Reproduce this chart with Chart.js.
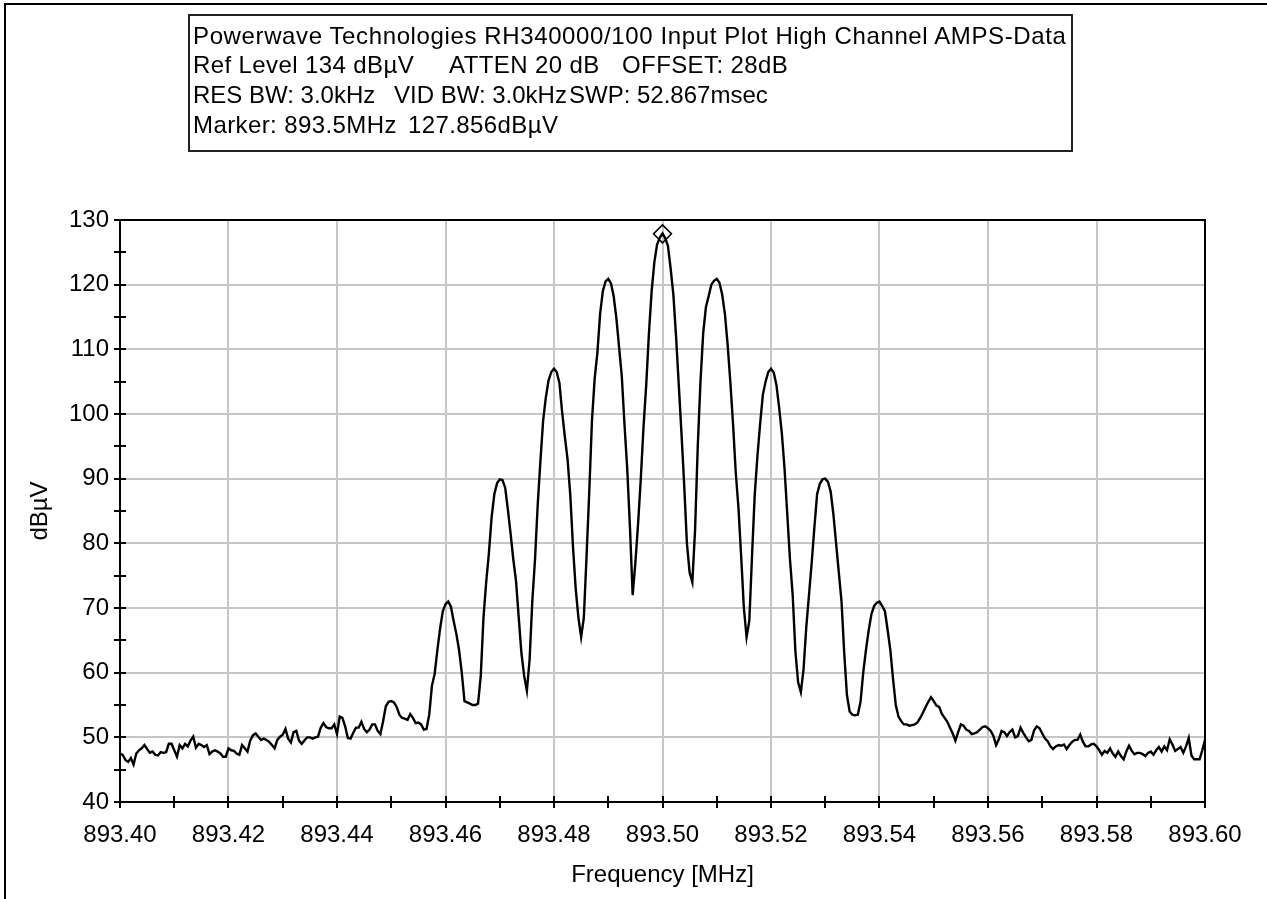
<!DOCTYPE html>
<html>
<head>
<meta charset="utf-8">
<title>RH340000/100 Input Plot High Channel AMPS-Data</title>
<script src="https://cdn.jsdelivr.net/npm/chart.js@4.4.1/dist/chart.umd.min.js"></script>
<style>
    body { margin: 0; background: #fff; }
    #page { position: relative; width: 1267px; height: 899px; overflow: hidden; background: #fff; }
    #chart { position: absolute; left: 0; top: 0; }
    .frame-top { position: absolute; left: 4px; top: 3px; width: 1263px; height: 2px; background: #000; }
    .frame-left { position: absolute; left: 4px; top: 3px; width: 2px; height: 896px; background: #000; }
    #info {
        position: absolute; left: 188px; top: 14px; width: 881px; height: 134px;
        border: 2px solid #222; box-sizing: content-box;
    }
    .info-line {
        position: absolute; white-space: pre; color: #000;
        font: 24px "Liberation Sans", Arial, sans-serif; line-height: 30px;
    }
</style>
</head>
<body>
<div id="page">
    <canvas id="chart" width="1267" height="899"></canvas>
    <div class="frame-top"></div>
    <div class="frame-left"></div>
    <div id="info"></div>
</div>
<script>
// sweep settings of the analyzer trace (401 points)
const FREQ_START = 893.40;
const FREQ_STEP = 0.0005;

// trace levels in dBµV
const levelsLowSide = [
    47.5, 47.3, 46.5, 46.2, 46.8, 45.8, 47.5, 48.0, 48.3, 48.8,
    48.2, 47.6, 47.8, 47.3, 47.2, 47.7, 47.6, 47.7, 49.0, 49.0,
    48.0, 47.0, 48.8, 48.3, 49.0, 48.6, 49.5, 50.1, 48.4, 49.0,
    48.8, 48.5, 48.8, 47.4, 47.8, 48.0, 47.8, 47.5, 47.0, 47.0,
    48.3, 48.0, 47.9, 47.5, 47.3, 48.8, 48.3, 47.8, 49.5, 50.3,
    50.6, 50.1, 49.6, 49.8, 49.6, 49.3, 48.8, 48.3, 49.6, 50.1,
    50.4, 51.3, 49.8, 49.2, 50.8, 51.0, 49.5, 49.0, 49.5, 50.0,
    50.0, 49.8, 50.0, 50.1, 51.5, 52.2, 51.6, 51.4, 51.4, 52.0,
    50.5, 53.2, 53.0, 51.7, 49.9, 49.8, 50.7, 51.5, 51.5, 52.4,
    51.3, 50.8, 51.2, 52.0, 52.0, 51.0, 50.5, 52.5, 54.8, 55.5,
    55.6, 55.4, 54.7, 53.5, 53.0, 52.9, 52.7, 53.6, 53.0, 52.2
];
const levelsCarrier = [
    52.3, 52.0, 51.2, 51.3, 53.5, 58.0, 59.8, 63.5, 66.8, 69.5,
    70.6, 71.0, 70.2, 68.0, 66.0, 63.5, 60.0, 55.6, 55.4, 55.2,
    55.0, 55.0, 55.2, 59.5, 68.5, 74.0, 78.5, 84.0, 87.6, 89.3,
    89.9, 89.8, 88.6, 85.2, 81.5, 77.5, 74.2, 68.5, 63.0, 59.5,
    57.2, 62.0, 71.0, 77.5, 86.0, 92.8, 99.0, 102.6, 105.2, 106.5,
    107.0, 106.5, 104.8, 100.3, 96.5, 93.0, 87.5, 79.5, 73.0, 68.5,
    65.5, 68.5, 78.0, 88.0, 99.0, 105.5, 109.5, 115.5, 119.0, 120.5,
    120.9, 120.2, 118.2, 114.8, 110.3, 105.8, 98.3, 91.5, 82.5, 72.0,
    77.0, 83.0, 90.0, 98.0, 104.5, 112.5, 119.0, 123.5, 126.2, 127.3,
    127.9, 127.2, 126.0, 122.5, 118.5, 112.0, 104.5, 97.0, 89.0, 80.0,
    75.5, 74.0, 82.0, 95.0, 105.0, 112.5, 116.5, 118.2, 120.0, 120.6,
    120.9, 120.3, 118.5, 115.5, 110.8, 105.0, 98.5, 91.0, 85.5, 78.0,
    70.0, 65.5, 68.0, 78.0, 87.5, 93.5, 98.5, 103.0, 105.0, 106.5,
    107.0, 106.4, 104.5, 101.0, 97.0, 91.5, 84.5, 77.5, 72.0, 63.2,
    58.5, 57.0, 60.5, 67.0, 72.0, 77.0, 82.5, 87.6, 89.2, 89.9,
    90.0, 89.5, 88.0, 84.5, 80.0, 75.5, 71.0, 63.0, 56.5, 54.0,
    53.5, 53.4, 53.5, 55.5, 60.0, 63.5, 66.5, 69.0, 70.3, 70.8,
    71.0, 70.3, 69.5, 66.6, 63.5, 59.0, 55.0, 53.2, 52.5, 52.0
];
const levelsHighSide = [
    52.0, 51.8, 51.9, 52.0, 52.3, 53.0, 53.8, 54.7, 55.5, 56.2,
    55.6, 54.9, 54.7, 53.6, 53.0, 52.4, 51.5, 50.6, 49.5, 50.8,
    52.0, 51.8, 51.2, 51.0, 50.5, 50.6, 50.8, 51.2, 51.6, 51.7,
    51.4, 51.0, 50.2, 48.8, 49.7, 51.0, 50.8, 50.2, 50.8, 51.2,
    50.0, 50.2, 51.5, 50.7, 50.0, 49.4, 49.6, 51.1, 51.7, 51.4,
    50.6, 49.8, 49.4, 48.6, 48.2, 48.6, 48.8, 48.7, 48.9, 48.2,
    48.8, 49.3, 49.6, 49.6, 50.4, 49.3, 48.6, 48.6, 48.9, 49.0,
    48.6, 48.0, 47.3, 47.9, 47.6, 48.3, 47.5, 47.0, 47.8, 47.1,
    46.6, 47.8, 48.7, 47.9, 47.4, 47.6, 47.6, 47.4, 47.1, 47.6,
    47.8, 47.3, 48.0, 48.5, 47.8, 48.6, 48.0, 49.7, 48.9, 47.9,
    48.2, 48.5, 47.6, 48.6, 49.9, 47.2, 46.6, 46.6, 46.6, 48.0,
    49.6
];

// marker readout
const markerFreq = 893.50;
const markerLevel = 127.856;

// axis ticks (major ones carry a label)
const xTickValues = [893.40, 893.41, 893.42, 893.43, 893.44, 893.45, 893.46, 893.47, 893.48, 893.49, 893.50,
                     893.51, 893.52, 893.53, 893.54, 893.55, 893.56, 893.57, 893.58, 893.59, 893.60];
const xTickLabels = ['893.40', '', '893.42', '', '893.44', '', '893.46', '', '893.48', '', '893.50',
                     '', '893.52', '', '893.54', '', '893.56', '', '893.58', '', '893.60'];
const yTickValues = [40, 45, 50, 55, 60, 65, 70, 75, 80, 85, 90, 95, 100, 105, 110, 115, 120, 125, 130];
const yTickLabels = ['40', '', '50', '', '60', '', '70', '', '80', '', '90', '', '100', '', '110', '', '120', '', '130'];

// header box text: [x, text] pieces per row
const infoLines = [
    [[193, 'Powerwave Technologies RH340000/100 Input Plot High Channel AMPS-Data']],
    [[193, 'Ref Level 134 dBµV'], [449, 'ATTEN 20 dB'], [622, 'OFFSET: 28dB']],
    [[193, 'RES BW: 3.0kHz'], [394, 'VID BW: 3.0kHz'], [569, 'SWP: 52.867msec']],
    [[193, 'Marker: 893.5MHz'], [408, '127.856dBµV']]
];
const infoTops = [21, 50, 80, 110];
const infoSpacing = ['0.62px', '0.4px', '0px', '0.4px'];

document.addEventListener("DOMContentLoaded", function () {
    const info = document.getElementById('info');
    infoLines.forEach((parts, row) => {
        parts.forEach(([x, text]) => {
            const span = document.createElement('div');
            span.className = 'info-line';
            span.style.left = (x - 190) + 'px';
            span.style.top = (infoTops[row] - 16) + 'px';
            span.style.letterSpacing = infoSpacing[row];
            span.textContent = text;
            info.appendChild(span);
        });
    });

    const levels = levelsLowSide.concat(levelsCarrier, levelsHighSide);
    const trace = levels.map((y, i) => ({ x: FREQ_START + i * FREQ_STEP, y }));

    const font = { family: '"Liberation Sans", Arial, sans-serif', size: 24 };
    const gridGray = '#c6c6c6';

    // ticks that cross the axes, and the black plot frame
    const axisMarks = {
        id: 'axisMarks',
        afterDraw(chart) {
            const { ctx, chartArea: a, scales } = chart;
            ctx.save();
            ctx.strokeStyle = '#000';
            ctx.lineWidth = 2;
            ctx.strokeRect(a.left, a.top, a.right - a.left, a.bottom - a.top);
            ctx.beginPath();
            xTickValues.forEach(v => {
                const px = Math.round(scales.x.getPixelForValue(v));
                ctx.moveTo(px, a.bottom - 6);
                ctx.lineTo(px, a.bottom + 6);
            });
            yTickValues.forEach(v => {
                const py = Math.round(scales.y.getPixelForValue(v));
                ctx.moveTo(a.left - 6, py);
                ctx.lineTo(a.left + 6, py);
            });
            ctx.stroke();
            ctx.restore();
        }
    };

    new Chart(document.getElementById('chart').getContext('2d'), {
        type: 'line',
        data: {
            datasets: [{
                label: 'Marker',
                type: 'scatter',
                data: [{ x: markerFreq, y: markerLevel }],
                pointStyle: 'rectRot',
                pointRadius: 9,
                borderColor: '#000',
                borderWidth: 1.5,
                backgroundColor: 'rgba(255,255,255,0)'
            }, {
                label: 'Trace',
                data: trace,
                borderColor: '#000',
                borderWidth: 2.4,
                pointRadius: 0,
                tension: 0
            }]
        },
        options: {
            responsive: false,
            animation: false,
            devicePixelRatio: 1,
            layout: { padding: { left: 0, top: 220, right: 62, bottom: 0 } },
            plugins: {
                legend: { display: false },
                tooltip: { enabled: false }
            },
            scales: {
                x: {
                    type: 'linear',
                    min: 893.40,
                    max: 893.60,
                    afterBuildTicks: s => { s.ticks = xTickValues.map(value => ({ value })); },
                    afterFit: s => { s.height = 97; },
                    border: { display: false },
                    grid: {
                        drawTicks: false,
                        lineWidth: 2,
                        color: c => (c.index !== undefined && xTickLabels[c.index]) ? gridGray : 'rgba(0,0,0,0)'
                    },
                    ticks: {
                        autoSkip: false,
                        maxRotation: 0,
                        padding: 19,
                        color: '#000',
                        font,
                        callback: (v, i) => xTickLabels[i]
                    },
                    title: {
                        display: true,
                        text: 'Frequency [MHz]',
                        color: '#000',
                        font,
                        padding: { top: 0, bottom: 9 }
                    }
                },
                y: {
                    min: 40,
                    max: 130,
                    afterBuildTicks: s => { s.ticks = yTickValues.map(value => ({ value })); },
                    afterFit: s => { s.width = 120; },
                    border: { display: false },
                    grid: {
                        drawTicks: false,
                        lineWidth: 2,
                        color: c => (c.index !== undefined && yTickLabels[c.index]) ? gridGray : 'rgba(0,0,0,0)'
                    },
                    ticks: {
                        autoSkip: false,
                        padding: 11,
                        color: '#000',
                        font,
                        callback: (v, i) => yTickLabels[i]
                    },
                    title: {
                        display: true,
                        text: 'dBµV',
                        color: '#000',
                        font,
                        padding: { top: 26, bottom: 0 }
                    }
                }
            }
        },
        plugins: [axisMarks]
    });
});
</script>
</body>
</html>
